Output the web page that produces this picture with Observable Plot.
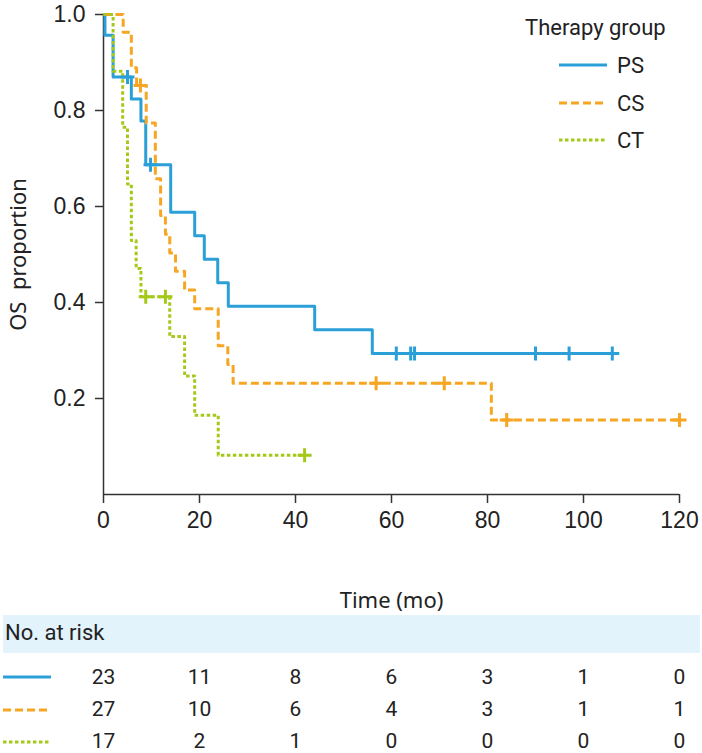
<!DOCTYPE html>
<html>
<head>
<meta charset="utf-8">
<script src="https://cdn.jsdelivr.net/npm/d3@7"></script>
<script src="https://cdn.jsdelivr.net/npm/@observablehq/plot@0.6"></script>
<style>
  html, body { margin: 0; padding: 0; background: #fff; }
  #wrap { position: relative; width: 702px; height: 753px; overflow: hidden; }
  #main { position: absolute; left: 0; top: 0; }
  #risk { position: absolute; left: 0; top: 610px; }
  .band { position: absolute; left: 3px; top: 615px; width: 697px; height: 38px; background: #e3f3fb; }
  .bandtxt { position: absolute; left: 5px; top: 620px; font: 22px Roboto, sans-serif; color: #222; }
</style>
</head>
<body>
<div id="wrap">
  <div id="main"></div>
  <div class="band"></div>
  <div class="bandtxt">No. at risk</div>
  <div id="risk"></div>
  <svg id="overlay" width="702" height="753" style="position:absolute;left:0;top:0;pointer-events:none"></svg>
</div>
<script>
// ---- data ----
const groups = ["PS", "CS", "CT"];
const colors = ["#2a9fd8", "#f6a623", "#a4c919"];
const dashes = ["none", "8,4", "3.5,2.5"];

const psTime = [0, 0.3, 2, 5.8, 7.8, 8.8, 14, 19, 21, 23.8, 26, 44, 56, 106];
const psSurv = [1, 0.957, 0.870, 0.824, 0.778, 0.687, 0.588, 0.539, 0.490, 0.441, 0.392, 0.343, 0.294, 0.294];
const psCensorTime = [5, 9.8, 61, 64, 64.8, 90, 97, 106];
const psCensorSurv = [0.870, 0.687, 0.294, 0.294, 0.294, 0.294, 0.294, 0.294];

const csTime = [0, 4.1, 5.8, 6.9, 8.9, 10.8, 11.9, 12.9, 13.8, 15, 16.9, 19, 23.9, 25.9, 27, 80.8, 120];
const csSurv = [1, 0.963, 0.889, 0.852, 0.774, 0.658, 0.581, 0.542, 0.503, 0.465, 0.426, 0.387, 0.310, 0.271, 0.232, 0.155, 0.155];
const csCensorTime = [7.7, 56.8, 71, 84, 120];
const csCensorSurv = [0.852, 0.232, 0.232, 0.155, 0.155];

const ctTime = [0, 2, 4, 5, 5.8, 6.8, 7.8, 13.8, 16.9, 19, 23.9, 41.9];
const ctSurv = [1, 0.882, 0.765, 0.647, 0.529, 0.471, 0.412, 0.329, 0.247, 0.165, 0.082, 0.082];
const ctCensorTime = [8.8, 12.9, 41.9];
const ctCensorSurv = [0.412, 0.412, 0.082];

const riskTimes = [0, 20, 40, 60, 80, 100, 120];
const psRisk = [23, 11, 8, 6, 3, 1, 0];
const csRisk = [27, 10, 6, 4, 3, 1, 1];
const ctRisk = [17, 2, 1, 0, 0, 0, 0];

const xTicks = [0, 20, 40, 60, 80, 100, 120];
const yTicks = [0.2, 0.4, 0.6, 0.8, 1.0];

// ---- build tables ----
const curveSets = [[psTime, psSurv], [csTime, csSurv], [ctTime, ctSurv]];
const censorSets = [[psCensorTime, psCensorSurv], [csCensorTime, csCensorSurv], [ctCensorTime, ctCensorSurv]];
const riskSets = [psRisk, csRisk, ctRisk];

const plus = {
  draw(context, size) {
    const r = Math.sqrt(size / Math.PI);
    context.moveTo(-r, 0); context.lineTo(r, 0);
    context.moveTo(0, -r); context.lineTo(0, r);
  }
};

const marks = [];
groups.forEach((g, i) => {
  const [t, s] = curveSets[i];
  const rows = t.map((d, j) => ({time: d, surv: s[j]}));
  marks.push(Plot.line(rows, {x: "time", y: "surv", curve: "step-after", stroke: colors[i],
    strokeWidth: 3, strokeDasharray: dashes[i] === "none" ? null : dashes[i], strokeLinecap: "butt"}));
});
groups.forEach((g, i) => {
  const [t, s] = censorSets[i];
  const rows = t.map((d, j) => ({time: d, surv: s[j]}));
  marks.push(Plot.dot(rows, {x: "time", y: "surv", symbol: plus, r: 7, stroke: colors[i], strokeWidth: 3, fill: "none"}));
});

const main = Plot.plot({
  width: 702,
  height: 615,
  marginLeft: 103,
  marginRight: 23,
  marginTop: 14,
  marginBottom: 121,
  style: {background: "transparent", color: "#222"},
  x: {domain: [0, 120]},
  y: {domain: [0, 1]},
  marks: [
    Plot.ruleX([0], {y1: 0, y2: 1, stroke: "#333", strokeWidth: 1.5}),
    Plot.ruleY([0], {stroke: "#333", strokeWidth: 1.5}),
    Plot.axisY({ticks: yTicks, tickFormat: d => d.toFixed(1), tickSize: 8, tickPadding: 10,
      fontSize: 23, fontFamily: "Liberation Sans, Arial, sans-serif", stroke: "#333", strokeWidth: 1.5,
      label: "OS  proportion", labelAnchor: "center", labelOffset: 93, labelArrow: "none"}),
    Plot.axisX({ticks: xTicks, tickSize: 9, tickPadding: 8, fontSize: 23,
      fontFamily: "Liberation Sans, Arial, sans-serif", stroke: "#333", strokeWidth: 1.5,
      label: "Time (mo)", labelAnchor: "center", labelOffset: 113, labelArrow: "none"}),
    ...marks
  ]
});
// axis label font
main.querySelectorAll("g[aria-label='y-axis label'] text, g[aria-label='x-axis label'] text").forEach(t => {
  t.setAttribute("font-family", "Noto Sans, sans-serif");
  t.setAttribute("font-size", "22");
  t.setAttribute("xml:space", "preserve");
  t.style.whiteSpace = "pre";
});
document.getElementById("main").appendChild(main);

// ---- risk table ----
const riskRows = [];
groups.forEach((g, i) => riskTimes.forEach((t, j) => riskRows.push({group: g, time: t, n: riskSets[i][j]})));
const risk = Plot.plot({
  width: 702,
  height: 143,
  marginLeft: 103,
  marginRight: 23,
  marginTop: 0,
  marginBottom: 0,
  style: {background: "transparent"},
  x: {domain: [0, 120], axis: null},
  y: {type: "point", domain: groups, range: [66, 131], padding: 0, axis: null},
  marks: [
    Plot.text(riskRows, {x: "time", y: "group", text: "n", fontSize: 21, fill: "#222",
      fontFamily: "Roboto, sans-serif", textAnchor: "middle"})
  ]
});
document.getElementById("risk").appendChild(risk);

// ---- legend + table swatches ----
const ov = d3.select("#overlay");
ov.append("text").attr("x", 525).attr("y", 35).attr("font-family", "Roboto, sans-serif")
  .attr("font-size", 22).attr("fill", "#222").text("Therapy group");
const legY = [65, 103, 140];
const tabY = [677, 710, 742];
groups.forEach((g, i) => {
  const line = (x1, x2, y) => ov.append("line").attr("x1", x1).attr("x2", x2).attr("y1", y).attr("y2", y)
    .attr("stroke", colors[i]).attr("stroke-width", 3)
    .attr("stroke-dasharray", dashes[i] === "none" ? null : dashes[i]);
  line(559, 607, legY[i]);
  ov.append("text").attr("x", 617).attr("y", legY[i] + 8).attr("font-family", "Roboto, sans-serif")
    .attr("font-size", 22).attr("fill", "#222").text(g);
  line(3, 51, tabY[i]);
});
</script>
</body>
</html>
